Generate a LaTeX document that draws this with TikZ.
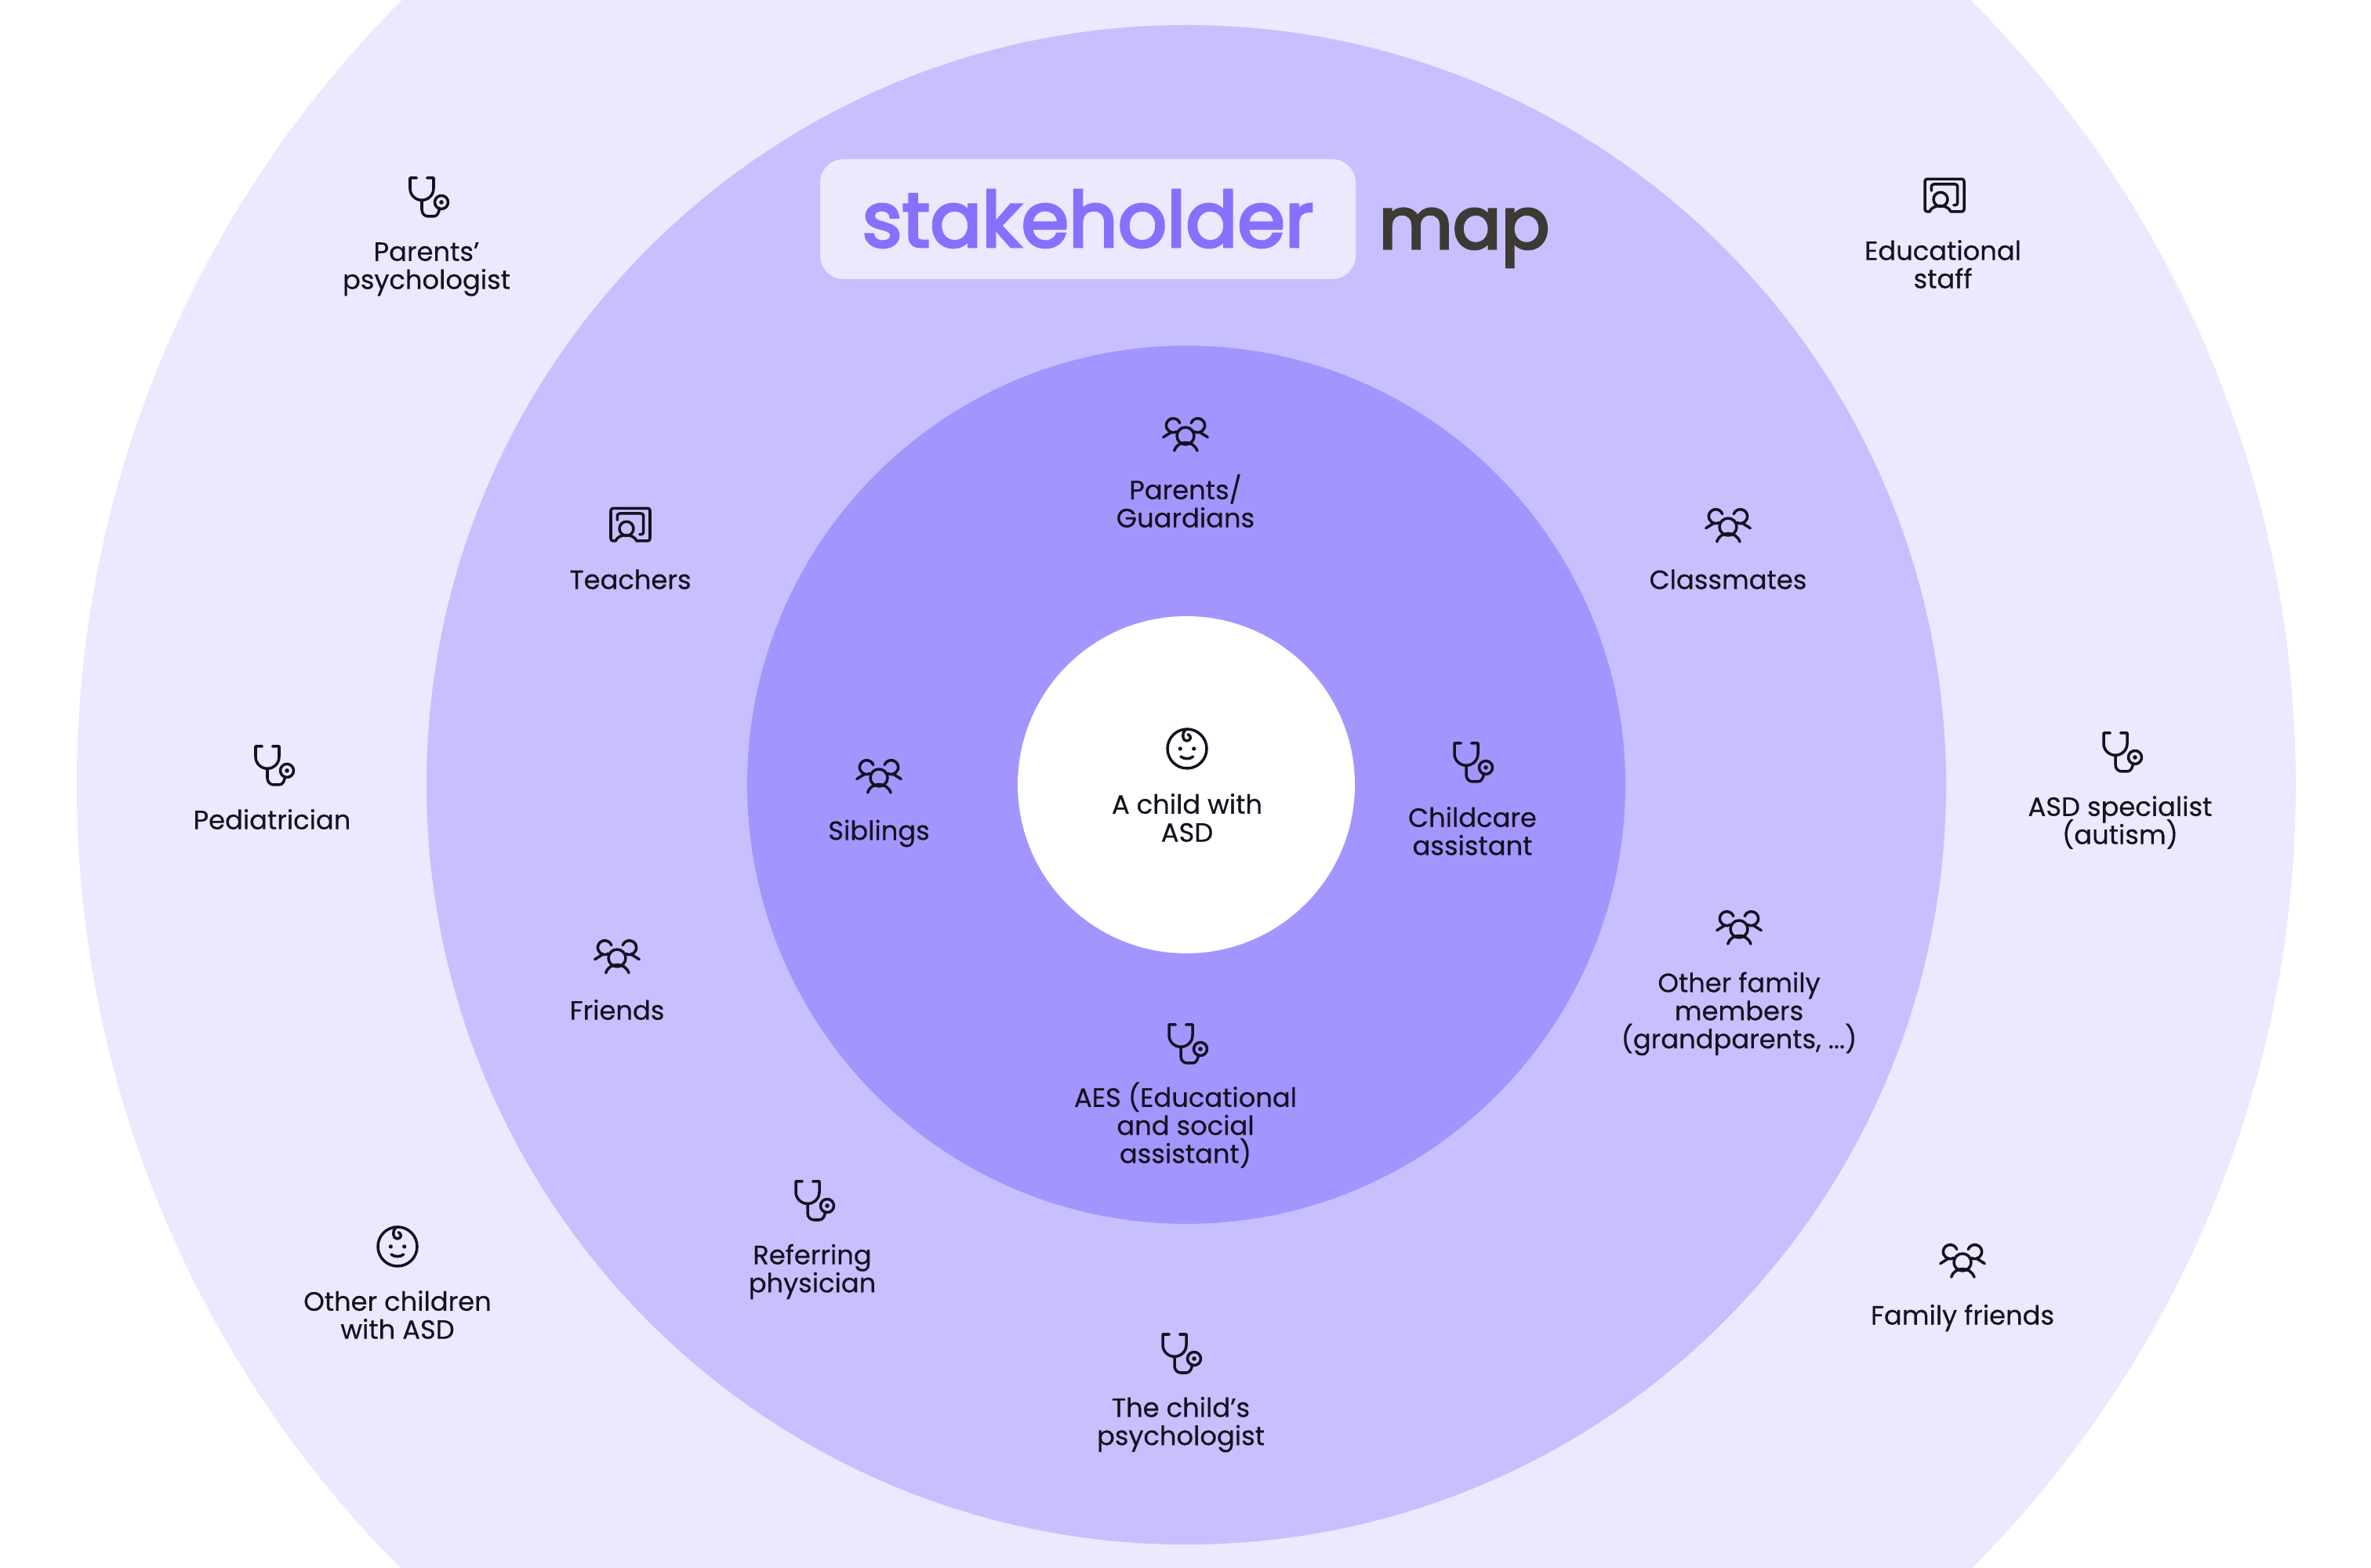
\documentclass[tikz,border=0pt]{standalone}
\usepackage{fontspec}
\setmainfont[FakeBold=0.35]{Poppins}
\newfontfamily\titlefont[FakeBold=3.5]{Poppins}
\usetikzlibrary{positioning}
\setlength{\lineskiplimit}{-10pt}
\definecolor{ringouter}{HTML}{ECE8FE}
\definecolor{ringmid}{HTML}{C8BFFE}
\definecolor{ringinner}{HTML}{A395FE}
\definecolor{titlepurple}{HTML}{8670FE}
\definecolor{titledark}{HTML}{3D3A35}
\definecolor{inkblack}{HTML}{14121F}
\tikzset{
    ring/.style={circle, inner sep=0pt, minimum size=#1},
    lbl/.style={align=center, inner sep=0pt, text=inkblack, font=\fontsize{9.6}{10.2}\selectfont},
    ico/.style={draw=inkblack, line width=1pt, line cap=round, line join=round},
    stethoicon/.pic={
        \draw[ico] (-.167,.25) -- (-.25,.25) -- (-.25,.117) .. controls (-.25,.03) and (-.18,-.033) .. (-.1,-.033)
            .. controls (-.02,-.033) and (.05,.03) .. (.05,.117) -- (.05,.25) -- (-.033,.25);
        \draw[ico] (-.1,-.033) -- (-.1,-.15) .. controls (-.1,-.21) and (-.06,-.24) .. (-.017,-.24) -- (.05,-.24)
            .. controls (.09,-.24) and (.12,-.2) .. (.125,-.135);
        \draw[ico] (.15,-.06) circle (.085);
        \fill[inkblack] (.15,-.06) circle (.028);
    },
    groupicon/.pic={
        \draw[ico] (0,0) circle (.11);
        \draw[ico] (-.143,-.19) .. controls (-.1,-.05) and (.1,-.05) .. (.15,-.19);
        \draw[ico] (-.072,.164) arc[start angle=20, end angle=300, radius=.09];
        \draw[ico] (.072,.164) arc[start angle=160, end angle=-120, radius=.09];
        \draw[ico] (-.283,-.017) -- (-.177,.05);
        \draw[ico] (.283,-.017) -- (.177,.05);
    },
    boardicon/.pic={
        \draw[ico, rounded corners=.03cm] (-.19,-.2) -- (-.25,-.2) -- (-.25,.217) -- (.25,.217) -- (.25,-.2) -- (.08,-.2);
        \draw[ico] (-.19,-.2) .. controls (-.15,-.1) and (.04,-.1) .. (.08,-.2);
        \draw[ico] (-.05,-.043) circle (.09);
        \draw[ico, rounded corners=.03cm] (-.167,.067) -- (-.167,.15) -- (.167,.15) -- (.167,-.117) -- (.117,-.117);
    },
    babyicon/.pic={
        \draw[ico] (0,0) circle (.25);
        \fill[inkblack] (-.087,0) circle (.026);
        \fill[inkblack] (.087,0) circle (.026);
        \draw[ico] (-.08,-.1) .. controls (-.04,-.135) and (.04,-.135) .. (.077,-.1);
        \draw[ico] (-.023,.24) .. controls (-.07,.2) and (-.06,.1) .. (-.007,.1)
            .. controls (.04,.1) and (.07,.15) .. (.01,.183);
    },
}
\begin{document}
\begin{tikzpicture}
    \useasboundingbox (0,0) rectangle (30.24,20);
    \clip (0,0) rectangle (30.24,20);
    \fill[white] (0,0) rectangle (30.24,20);
    % rings
    \node[ring=28.30cm, fill=ringouter] (outer) at (15.13,9.99) {};
    \node[ring=19.38cm, fill=ringmid] (mid) at (15.13,9.99) {};
    \node[ring=11.20cm, fill=ringinner] (inner) at (15.13,9.99) {};
    \node[ring=4.30cm, fill=white] (core) at (15.13,9.99) {};
    % title
    \node[fill=ringouter, rounded corners=.3cm, minimum width=6.83cm, minimum height=1.53cm, inner sep=0pt, text=titlepurple, font=\fontsize{27.8}{30}\titlefont] (stakebox) at (13.875,17.205) {\raisebox{.5pt}{stakeholder}};
    \node[anchor=base west, inner sep=0pt, text=titledark, font=\fontsize{26}{30}\titlefont] (maptitle) at (17.58,16.83) {map};
    % centre
    \pic (childicon) at (15.14,10.45) {babyicon};
    \node[lbl] (child) at (15.14,9.57) {A child with\\ASD};
    % inner ring
    \pic (parentsicon) at (15.12,14.44) {groupicon};
    \node[lbl] (parents) at (15.12,13.61) {Parents/\\Guardians};
    \pic (siblingsicon) at (11.21,10.08) {groupicon};
    \node[lbl] (siblings) at (11.21,9.37) {Siblings};
    \pic (childcareicon) at (18.80,10.27) {stethoicon};
    \node[lbl] (childcare) at (18.78,9.40) {Childcare\\assistant};
    \pic (aesicon) at (15.16,6.68) {stethoicon};
    \node[lbl] (aes) at (15.12,5.65) {AES (Educational\\and social\\assistant)};
    % middle ring
    \pic (teachersicon) at (8.04,13.30) {boardicon};
    \node[lbl] (teachers) at (8.04,12.61) {Teachers};
    \pic (classmatesicon) at (22.04,13.28) {groupicon};
    \node[lbl] (classmates) at (22.04,12.61) {Classmates};
    \pic (familyicon) at (22.18,8.15) {groupicon};
    \node[lbl] (family) at (22.18,7.07) {Other family\\members\\(grandparents, ...)};
    \pic (friendsicon) at (7.87,7.78) {groupicon};
    \node[lbl] (friends) at (7.87,7.12) {Friends};
    \pic (referringicon) at (10.40,4.68) {stethoicon};
    \node[lbl] (referring) at (10.36,3.78) {Referring\\physician};
    \pic (psychicon) at (15.08,2.73) {stethoicon};
    \node[lbl] (psych) at (15.06,1.83) {The child’s\\psychologist};
    % outer ring
    \pic (parentpsyicon) at (5.48,17.48) {stethoicon};
    \node[lbl] (parentpsy) at (5.44,16.565) {Parents’\\psychologist};
    \pic (stafficon) at (24.80,17.50) {boardicon};
    \node[lbl] (staff) at (24.78,16.63) {Educational\\staff};
    \pic (pediatricianicon) at (3.51,10.23) {stethoicon};
    \node[lbl] (pediatrician) at (3.47,9.55) {Pediatrician};
    \pic (specialisticon) at (27.08,10.40) {stethoicon};
    \node[lbl] (specialist) at (27.04,9.51) {ASD specialist\\(autism)};
    \pic (otherkidsicon) at (5.07,4.10) {babyicon};
    \node[lbl] (otherkids) at (5.07,3.23) {Other children\\with ASD};
    \pic (famfriendsicon) at (25.03,3.90) {groupicon};
    \node[lbl] (famfriends) at (25.03,3.19) {Family friends};
\end{tikzpicture}
\end{document}
